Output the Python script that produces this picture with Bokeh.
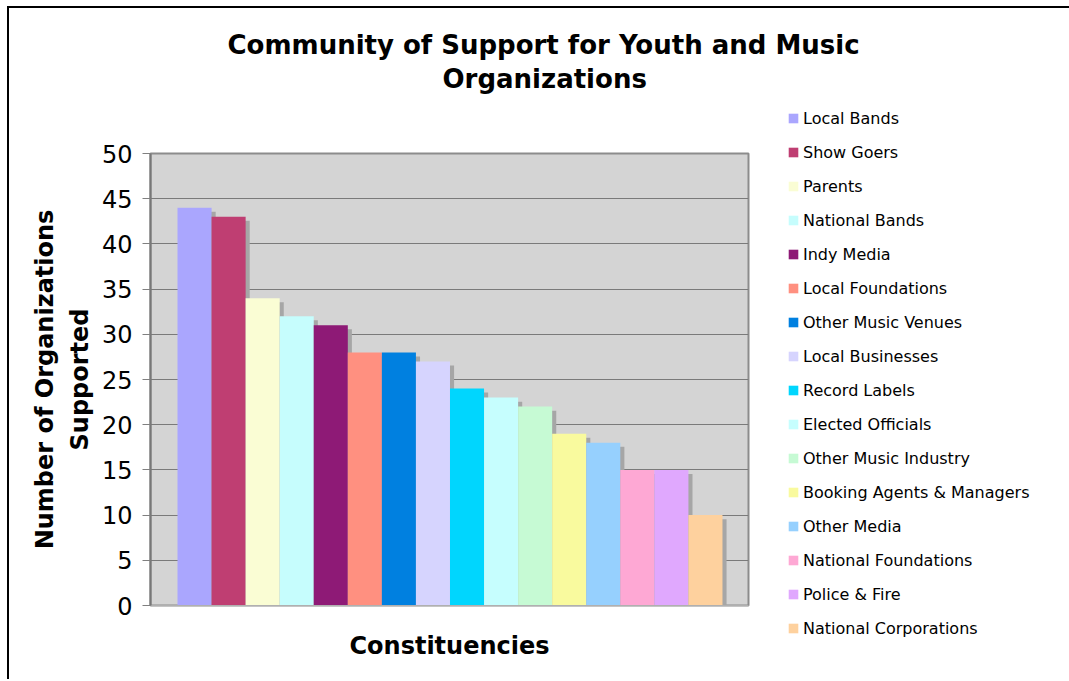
from bokeh.plotting import figure
from bokeh.models import (ColumnDataSource, Range1d, FixedTicker, Legend, LegendItem, Title,
                          LinearAxis)
from bokeh.transform import dodge
from bokeh.embed import file_html
from bokeh.resources import INLINE
import numpy as np

# ---- data ----
categories = ["Local Bands", "Show Goers", "Parents", "National Bands", "Indy Media",
              "Local Foundations", "Other Music Venues", "Local Businesses", "Record Labels",
              "Elected Officials", "Other Music Industry", "Booking Agents & Managers",
              "Other Media", "National Foundations", "Police & Fire", "National Corporations"]
values = [44, 43, 34, 32, 31, 28, 28, 27, 24, 23, 22, 19, 18, 15, 15, 10]
colors = ["#aaa6fe", "#bf3e72", "#fafdd4", "#c6fdfd", "#8e1a76", "#ff9080", "#0080e0",
          "#d6d4fe", "#00d6fe", "#c6fefe", "#c6fad4", "#f9fa9e", "#96d0fe", "#fea8d4",
          "#e0a8fe", "#fed19e"]
y_ticks = [0, 5, 10, 15, 20, 25, 30, 35, 40, 45, 50]
title_lines = ["Community of Support for Youth and Music", "Organizations"]
x_title = "Constituencies"
y_title = "Number of Organizations\nSupported"

FONT = "DejaVu Sans"
n = len(categories)
xs = np.arange(n) + 0.5
src = ColumnDataSource(dict(x=xs, top=values, name=categories, color=colors,
                            shadow_top=np.array(values, dtype=float) - 0.45))

p = figure(frame_width=598, frame_height=452, output_backend="svg", toolbar_location=None,
           x_range=Range1d(-0.793, n + 0.764), y_range=Range1d(0, 50),
           min_border_left=141, min_border_right=10, min_border_top=145,
           min_border_bottom=74)
p.styles = {"border-left": "2px solid black", "border-top": "2px solid black",
            "margin-left": "7px", "margin-top": "6px"}

p.background_fill_color = "#d4d4d4"
p.border_fill_color = "white"
p.outline_line_color = "#8c8c8c"
p.outline_line_width = 2

# shadows
p.vbar(x=dodge("x", 0.12), top="shadow_top", bottom=0, width=1, source=src,
       fill_color="#a6a6a6", line_color=None)
bars = p.vbar(x="x", top="top", bottom=0, width=1, source=src,
              fill_color="color", line_color=None)

# grid / axes
p.xgrid.visible = False
p.ygrid.ticker = FixedTicker(ticks=y_ticks)
p.ygrid.grid_line_color = "#7a7a7a"
p.ygrid.grid_line_width = 1

ya = p.yaxis[0]
ya.ticker = FixedTicker(ticks=y_ticks)
ya.major_label_text_font = FONT
ya.major_label_text_font_size = "24px"
ya.major_label_text_color = "black"
ya.major_tick_out = 8
ya.major_tick_in = 0
ya.major_tick_line_color = "#808080"
ya.minor_tick_line_color = None
ya.axis_line_color = "#777777"
ya.axis_line_width = 2
ya.major_label_standoff = 10
ya.axis_label = y_title
ya.axis_label_text_font = FONT
ya.axis_label_text_font_size = "24px"
ya.axis_label_text_font_style = "bold"
ya.axis_label_text_color = "black"
ya.axis_label_standoff = 5
ya.axis_label_text_line_height = 1.25

xa = p.xaxis[0]
xa.ticker = FixedTicker(ticks=[])
xa.major_tick_line_color = None
xa.minor_tick_line_color = None
xa.axis_line_color = "#b0b0b0"
xa.axis_label = x_title
xa.axis_label_text_font = FONT
xa.axis_label_text_font_size = "24px"
xa.axis_label_text_font_style = "bold"
xa.axis_label_text_color = "black"
xa.axis_label_standoff = 26

# blank spacer between frame and title: one white tick kept off the frame, no label text
spacer = LinearAxis(ticker=FixedTicker(ticks=[0]), axis_line_color=None,
                    major_tick_line_color="white", minor_tick_line_color=None,
                    major_tick_out=59, major_tick_in=-4, major_label_standoff=0,
                    major_label_overrides={0: ""}, major_label_text_font_size="1px")
p.add_layout(spacer, "above")

# title: two lines, the one nearest the frame is added first
for line, off in [(title_lines[1], 292), (title_lines[0], 77)]:
    p.add_layout(Title(text=line, align="left", offset=off, standoff=2,
                       text_font=FONT, text_font_size="26px", text_font_style="bold",
                       text_color="black"), "above")

legend = Legend(items=[LegendItem(label=c, renderers=[bars], index=i)
                       for i, c in enumerate(categories)],
                location=(39, -33), orientation="vertical",
                label_text_font=FONT, label_text_font_size="16px", label_text_color="black",
                glyph_width=12, glyph_height=12, label_height=20, spacing=14,
                padding=0, margin=0, label_standoff=4,
                border_line_alpha=0, background_fill_alpha=0)
p.add_layout(legend, "right")

open("out.html", "w").write(file_html(p, INLINE))
